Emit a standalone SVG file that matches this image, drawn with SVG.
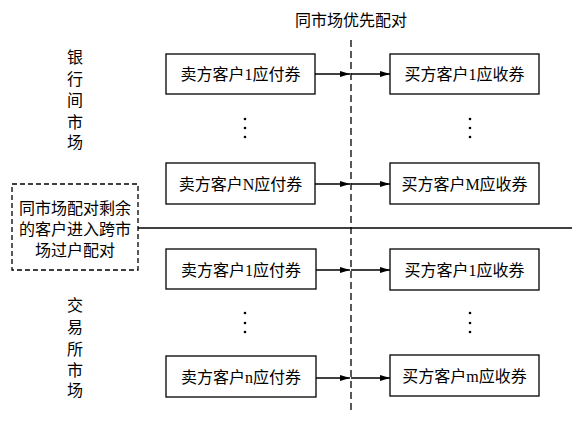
<svg xmlns="http://www.w3.org/2000/svg" width="584" height="422" viewBox="0 0 584 422">
<defs>
<marker id="ah" markerWidth="10" markerHeight="8" refX="10" refY="4" orient="auto" markerUnits="userSpaceOnUse">
<path d="M0,1 L10,4 L0,7 Z" fill="#000"/>
</marker>
<style>
text{font-family:"Liberation Serif","Noto Sans CJK SC",serif;font-size:16px;fill:#000}
.box{fill:#fff;stroke:#000;stroke-width:1.3}
.t{text-anchor:middle;dominant-baseline:central}
.ln{stroke:#000;stroke-width:1.3;fill:none}
.dot{fill:#000}
</style>
</defs>
<rect width="584" height="422" fill="#fff"/>
<text class="t" x="351" y="20">同市场优先配对</text>
<g id="label-bank">
<text class="t" x="75" y="57">银</text>
<text class="t" x="75" y="79">行</text>
<text class="t" x="75" y="100">间</text>
<text class="t" x="75" y="122">市</text>
<text class="t" x="75" y="142">场</text>
</g>
<g id="label-exchange">
<text class="t" x="75" y="305">交</text>
<text class="t" x="75" y="327">易</text>
<text class="t" x="75" y="349">所</text>
<text class="t" x="75" y="370">市</text>
<text class="t" x="75" y="390">场</text>
</g>
<g id="connectors">
<line class="ln" x1="351" y1="40" x2="351" y2="414" stroke-dasharray="7,4" stroke="#555"/>
<line class="ln" x1="138" y1="228" x2="572" y2="228"/>
<line class="ln" x1="315" y1="74" x2="350" y2="74" marker-end="url(#ah)"/>
<line class="ln" x1="351" y1="74" x2="390" y2="74" marker-end="url(#ah)"/>
<line class="ln" x1="315" y1="184" x2="350" y2="184" marker-end="url(#ah)"/>
<line class="ln" x1="351" y1="184" x2="390" y2="184" marker-end="url(#ah)"/>
<line class="ln" x1="316" y1="270" x2="350" y2="270" marker-end="url(#ah)"/>
<line class="ln" x1="351" y1="270" x2="390" y2="270" marker-end="url(#ah)"/>
<line class="ln" x1="316" y1="378" x2="350" y2="378" marker-end="url(#ah)"/>
<line class="ln" x1="351" y1="378" x2="390" y2="378" marker-end="url(#ah)"/>
</g>
<g id="seller1-bank"><rect class="box" x="166" y="54" width="149" height="40"/><text class="t" x="240.5" y="74">卖方客户1应付券</text></g>
<g id="sellerN-bank"><rect class="box" x="166" y="163" width="149" height="41"/><text class="t" x="240.5" y="184">卖方客户N应付券</text></g>
<g id="buyer1-bank"><rect class="box" x="390" y="54" width="149" height="40"/><text class="t" x="464.5" y="74">买方客户1应收券</text></g>
<g id="buyerM-bank"><rect class="box" x="390" y="163" width="149" height="41"/><text class="t" x="464.5" y="184">买方客户M应收券</text></g>
<g id="seller1-ex"><rect class="box" x="166" y="249" width="150" height="40"/><text class="t" x="241" y="270">卖方客户1应付券</text></g>
<g id="sellern-ex"><rect class="box" x="166" y="356" width="150" height="41"/><text class="t" x="241" y="377">卖方客户n应付券</text></g>
<g id="buyer1-ex"><rect class="box" x="390" y="249" width="149" height="41"/><text class="t" x="464.5" y="270">买方客户1应收券</text></g>
<g id="buyerm-ex"><rect class="box" x="390" y="355" width="149" height="41"/><text class="t" x="464.5" y="376">买方客户m应收券</text></g>
<g id="leftover">
<rect x="12" y="184" width="126" height="86" fill="#fff" stroke="#000" stroke-width="1.3" stroke-dasharray="5,3"/>
<text class="t" x="75" y="208">同市场配对剩余</text>
<text class="t" x="75" y="229">的客户进入跨市</text>
<text class="t" x="75" y="250">场过户配对</text>
</g>
<g id="dots">
<circle class="dot" cx="245" cy="119" r="1.3"/><circle class="dot" cx="245" cy="128" r="1.3"/><circle class="dot" cx="245" cy="137" r="1.3"/>
<circle class="dot" cx="470" cy="119" r="1.3"/><circle class="dot" cx="470" cy="128" r="1.3"/><circle class="dot" cx="470" cy="137" r="1.3"/>
<circle class="dot" cx="245" cy="313" r="1.3"/><circle class="dot" cx="245" cy="323" r="1.3"/><circle class="dot" cx="245" cy="332" r="1.3"/>
<circle class="dot" cx="470" cy="313" r="1.3"/><circle class="dot" cx="470" cy="323" r="1.3"/><circle class="dot" cx="470" cy="332" r="1.3"/>
</g>
</svg>
